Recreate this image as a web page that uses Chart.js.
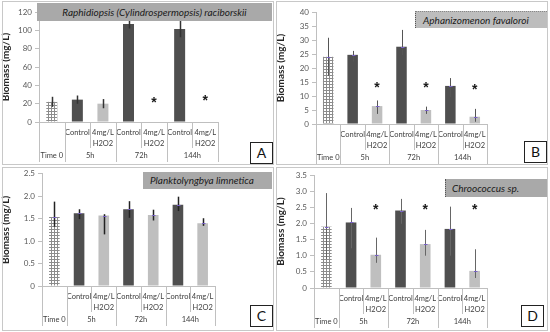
<!DOCTYPE html>
<html>
<head>
<meta charset="utf-8">
<script src="https://cdn.jsdelivr.net/npm/chart.js@4.4.0/dist/chart.umd.min.js"></script>
<style>
  body { margin: 0; background: #fff; width: 550px; height: 332px; overflow: hidden; font-family: Lato, "Liberation Sans", sans-serif; }
  .panel { position: absolute; width: 275px; height: 166px; }
  .panel canvas { position: absolute; left: 0; top: 0; }
  .frame { position: absolute; border: 1px solid #c8c8c8; box-sizing: border-box; pointer-events: none; }
  .banner { position: absolute; background: #a9a9a9; color: #1a1a1a; font-style: italic; font-size: 10px; white-space: nowrap; box-sizing: border-box; }
  .tag { position: absolute; width: 23px; height: 22px; border: 1px solid #222; background: #fff; font-size: 14px; line-height: 20px; text-align: center; box-sizing: border-box; color: #111; }
</style>
</head>
<body>

<div class="panel" style="left:0;top:0">
  <canvas id="chartA" width="275" height="166"></canvas>
  <div class="frame" style="left:2px;top:1px;width:272px;height:164px"></div>
  <div class="banner" style="left:37px;top:3px;width:235px;height:18px;line-height:18px;text-align:center">Raphidiopsis (Cylindrospermopsis) raciborskii</div>
  <div class="tag" style="left:250px;top:142px">A</div>
</div>

<div class="panel" style="left:275px;top:0">
  <canvas id="chartB" width="275" height="166"></canvas>
  <div class="frame" style="left:1px;top:1px;width:272px;height:164px"></div>
  <div class="banner" style="left:140px;top:11px;width:132px;height:17px;line-height:17px;padding-left:7px;background:#bdbdbd;border-left:1px dotted #555;border-top:1px dotted #888">Aphanizomenon favaloroi</div>
  <div class="tag" style="left:249px;top:141px">B</div>
</div>

<div class="panel" style="left:0;top:166px">
  <canvas id="chartC" width="275" height="166"></canvas>
  <div class="frame" style="left:2px;top:1px;width:272px;height:164px"></div>
  <div class="banner" style="left:143px;top:6px;width:129px;height:17px;line-height:17px;padding-left:7px">Planktolyngbya limnetica</div>
  <div class="tag" style="left:250px;top:139px">C</div>
</div>

<div class="panel" style="left:275px;top:166px">
  <canvas id="chartD" width="275" height="166"></canvas>
  <div class="frame" style="left:1px;top:1px;width:272px;height:164px"></div>
  <div class="banner" style="left:170px;top:13px;width:102px;height:18px;line-height:18px;padding-left:6px;border-left:1px dotted #555">Chroococcus sp.</div>
  <div class="tag" style="left:246px;top:139px">D</div>
</div>

<script>
//.. categories (two level axis)
const subLabels = ['', 'Control', ['4mg/L', 'H2O2'], 'Control', ['4mg/L', 'H2O2'], 'Control', ['4mg/L', 'H2O2']];
const groupLabels = ['Time 0', '5h', '72h', '144h'];
const groupSpans = [1, 2, 2, 2];

//.. A - Raphidiopsis raciborskii
const valuesA = [22, 24.4, 20, 107, 0, 101.5, 0];
const errPlusA = [5.5, 4.5, 5, 5, 0, 9, 0];
const errMinusA = [5.5, 4.5, 5, 5, 0, 9, 0];
const starsA = [null, null, null, null, 23.5, null, 25.5];
const yMaxA = 120, yStepA = 20;

//.. B - Aphanizomenon favaloroi
const valuesB = [24, 24.7, 6.4, 27.6, 5.0, 13.6, 2.6];
const errPlusB = [6.8, 1.4, 2.0, 6.0, 1.2, 2.8, 2.8];
const errMinusB = [6.8, 2.4, 2.8, 3.0, 1.4, 4.0, 1.8];
const starsB = [null, null, 14, null, 14, null, 13.2];
const yMaxB = 40, yStepB = 5;

//.. C - Planktolyngbya limnetica
const valuesC = [1.54, 1.62, 1.57, 1.71, 1.58, 1.81, 1.40];
const errPlusC = [0.34, 0.09, 0.03, 0.18, 0.12, 0.18, 0.11];
const errMinusC = [0.22, 0.13, 0.42, 0.19, 0.12, 0.14, 0.06];
const starsC = [null, null, null, null, null, null, null];
const yMaxC = 2.5, yStepC = 0.5;

//.. D - Chroococcus sp.
const valuesD = [1.90, 2.03, 1.03, 2.40, 1.36, 1.83, 0.53];
const errPlusD = [1.04, 0.45, 0.53, 0.36, 0.44, 0.69, 0.67];
const errMinusD = [1.0, 0.80, 0.25, 0.41, 0.36, 0.83, 0.22];
const starsD = [null, null, 2.5, null, 2.5, null, 2.5];
const yMaxD = 3.5, yStepD = 0.5;


Chart.defaults.font.family = 'Lato, "Liberation Sans", sans-serif';
Chart.defaults.animation = false;

//.. checkered fill for the Time 0 bar
function checkPattern(ctx) {
    const c = document.createElement('canvas');
    c.width = 3; c.height = 3;
    const p = c.getContext('2d');
    p.fillStyle = '#ffffff';
    p.fillRect(0, 0, 3, 3);
    p.fillStyle = '#8c8c8c';
    p.fillRect(0, 0, 3, 1);
    p.fillRect(0, 0, 1, 3);
    return ctx.createPattern(c, 'repeat');
}

//.. draws the excel style table under the x axis
const tableAxis = {
    id: 'tableAxis',
    afterDraw(chart) {
        const ctx = chart.ctx, xs = chart.scales.x, a = chart.chartArea;
        const half = (xs.getPixelForValue(1) - xs.getPixelForValue(0)) / 2;
        const edges = [0];
        groupSpans.forEach(s => edges.push(edges[edges.length - 1] + s));
        ctx.save();
        ctx.strokeStyle = '#c0c0c0';
        ctx.lineWidth = 1;
        for (let i = 0; i <= subLabels.length; i++) {
            const px = Math.round(xs.getPixelForValue(i) - half) + 0.5;
            const full = edges.includes(i);
            ctx.beginPath();
            ctx.moveTo(px, a.bottom);
            ctx.lineTo(px, a.bottom + (full ? 40 : 26));
            ctx.stroke();
        }
        ctx.fillStyle = '#404040';
        ctx.font = '7.5px Lato, "Liberation Sans", sans-serif';
        ctx.textAlign = 'center';
        ctx.textBaseline = 'middle';
        groupLabels.forEach((g, k) => {
            const x0 = xs.getPixelForValue(edges[k]) - half;
            const x1 = xs.getPixelForValue(edges[k + 1]) - half;
            ctx.fillText(g, (x0 + x1) / 2, a.bottom + 34);
        });
        ctx.restore();
    }
};

//.. error bars, small markers and asterisks
const errorBars = {
    id: 'errorBars',
    afterDatasetsDraw(chart, args, opts) {
        const ctx = chart.ctx, ys = chart.scales.y;
        const vals = chart.data.datasets[0].data;
        const meta = chart.getDatasetMeta(0);
        ctx.save();
        meta.data.forEach((bar, i) => {
            if (opts.plus[i] || opts.minus[i]) {
                const x = Math.round(bar.x) + 0.5;
                ctx.strokeStyle = opts.color;
                ctx.lineWidth = opts.width;
                ctx.beginPath();
                ctx.moveTo(x, ys.getPixelForValue(vals[i] + opts.plus[i]));
                ctx.lineTo(x, ys.getPixelForValue(vals[i] - opts.minus[i]));
                ctx.stroke();
                if (opts.marks) {
                    ctx.strokeStyle = '#7a62c9';
                    ctx.lineWidth = 1;
                    const yv = Math.round(ys.getPixelForValue(vals[i])) + 0.5;
                    ctx.beginPath();
                    ctx.moveTo(x - 1.5, yv);
                    ctx.lineTo(x + 2, yv);
                    ctx.stroke();
                }
            }
            if (opts.stars[i] != null) {
                ctx.fillStyle = '#1a1a1a';
                ctx.font = 'bold 14px "Liberation Sans", sans-serif';
                ctx.textAlign = 'center';
                ctx.textBaseline = 'middle';
                ctx.fillText('*', bar.x, ys.getPixelForValue(opts.stars[i]) + 3);
            }
        });
        ctx.restore();
    }
};


//.. Function to build one panel
function biomassChart(id, values, plus, minus, stars, yMax, yStep, area, look) {
    const canvas = document.getElementById(id);
    const ctx = canvas.getContext('2d');
    const W = canvas.width, H = canvas.height;
    const colors = values.map((v, i) => i === 0 ? checkPattern(ctx) : (i % 2 ? '#4f4f4f' : '#bfbfbf'));

    return new Chart(ctx, {
        type: 'bar',
        data: {
            labels: subLabels,
            datasets: [{
                data: values,
                backgroundColor: colors,
                borderWidth: 0,
                categoryPercentage: 1,
                barPercentage: 0.43
            }]
        },
        options: {
            responsive: false,
            layout: {padding: {left: 0, top: area.top, right: W - area.right, bottom: 0}},
            plugins: {
                legend: {display: false},
                tooltip: {enabled: false},
                errorBars: {plus: plus, minus: minus, stars: stars, color: look.color, width: look.width, marks: look.marks}
            },
            scales: {
                x: {
                    grid: {display: false, drawTicks: false},
                    border: {color: '#bfbfbf'},
                    ticks: {color: '#404040', font: {size: 7.5, lineHeight: 1.35}, padding: 6, maxRotation: 0, autoSkip: false},
                    afterFit(scale) { scale.height = H - area.bottom; }
                },
                y: {
                    min: 0,
                    max: yMax,
                    grid: {drawOnChartArea: false, drawTicks: true, tickLength: 4, color: '#bfbfbf'},
                    border: {color: '#bfbfbf'},
                    ticks: {stepSize: yStep, color: '#595959', font: {size: 8}, padding: 3},
                    title: {display: true, text: 'Biomass (mg/L)', color: '#262626', font: {size: 10, weight: 'bold'}, padding: {top: 0, bottom: 2}},
                    afterFit(scale) { scale.width = area.left; }
                }
            }
        },
        plugins: [tableAxis, errorBars]
    });
}

biomassChart('chartA', valuesA, errPlusA, errMinusA, starsA, yMaxA, yStepA,
    {left: 39, right: 218, top: 12, bottom: 122}, {color: '#333333', width: 1.5, marks: false});
biomassChart('chartB', valuesB, errPlusB, errMinusB, starsB, yMaxB, yStepB,
    {left: 41, right: 212, top: 12, bottom: 124}, {color: '#555555', width: 1, marks: true});
biomassChart('chartC', valuesC, errPlusC, errMinusC, starsC, yMaxC, yStepC,
    {left: 42, right: 215, top: 7, bottom: 120}, {color: '#222222', width: 1.5, marks: true});
biomassChart('chartD', valuesD, errPlusD, errMinusD, starsD, yMaxD, yStepD,
    {left: 39, right: 212, top: 9, bottom: 122}, {color: '#666666', width: 1, marks: true});
</script>
</body>
</html>
